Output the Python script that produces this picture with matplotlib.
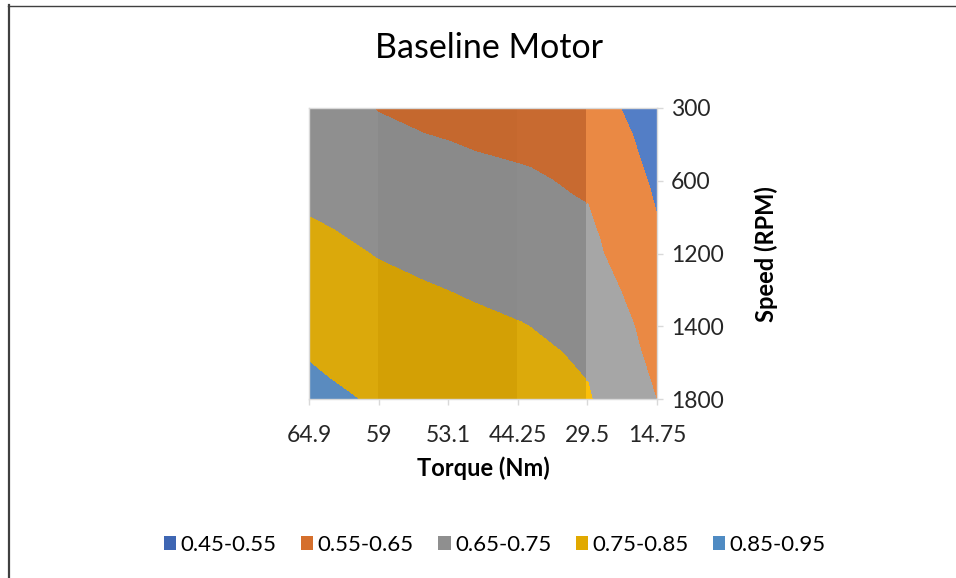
import matplotlib
matplotlib.use('Agg')
import matplotlib.pyplot as plt
import matplotlib.tri as mtri
from matplotlib.patches import Patch
from matplotlib.lines import Line2D
import numpy as np

plt.rcParams['font.family'] = ['Lato', 'DejaVu Sans']

# ---- data ----
torque_labels = ['64.9', '59', '53.1', '44.25', '29.5', '14.75']
speed_labels = ['300', '600', '1200', '1400', '1800']
eff_300 = [0.68, 0.647, 0.628, 0.61, 0.594, 0.50]
eff_600 = [0.72, 0.69, 0.676, 0.662, 0.638, 0.535]
eff_1200 = [0.78, 0.745, 0.721, 0.696, 0.675, 0.565]
eff_1400 = [0.83, 0.799, 0.777, 0.754, 0.727, 0.612]
eff_1800 = [0.87, 0.841, 0.80, 0.79, 0.757, 0.648]
levels = [0.45, 0.55, 0.65, 0.75, 0.85, 0.95]
band_labels = ['0.45-0.55', '0.55-0.65', '0.65-0.75', '0.75-0.85', '0.85-0.95']

# ---- styles ----
legend_colors = ['#3e66b3', '#d56f2c', '#8f8f8f', '#e1a900', '#4f8bc3']
# surface shading differs per cell column (Excel 3D lighting)
column_colors = [
    ['#4a74c0', '#c96b31', '#8f8f8f', '#dba90b', '#5a8bbf'],
    ['#4a74c0', '#c5682e', '#8a8a8a', '#d3a005', '#5a8bbf'],
    ['#4a74c0', '#c5682e', '#8a8a8a', '#d3a005', '#5a8bbf'],
    ['#4a74c0', '#c86a30', '#8c8c8c', '#dcaa0b', '#5a8bbf'],
    ['#537ec6', '#ea8944', '#a6a6a6', '#fbbf0a', '#5a8bbf'],
]

Z = np.array([eff_300, eff_600, eff_1200, eff_1400, eff_1800])
nr, nc = Z.shape
xs, ys = np.meshgrid(np.arange(nc), np.arange(nr))
xf, yf, zf = xs.ravel().astype(float), ys.ravel().astype(float), Z.ravel()

tris, tri_col = [], []
for r in range(nr - 1):
    for c in range(nc - 1):
        i = lambda rr, cc: rr * nc + cc
        tris.append([i(r, c), i(r, c + 1), i(r + 1, c)])
        tris.append([i(r, c + 1), i(r + 1, c + 1), i(r + 1, c)])
        tri_col += [c, c]
tris = np.array(tris)
tri_col = np.array(tri_col)

fig = plt.figure(figsize=(9.56, 5.78), dpi=100)
W, H = 956, 578
ax = fig.add_axes([309 / W, 1 - 399 / H, 348 / W, 291 / H])

for c in range(nc - 1):
    tr = mtri.Triangulation(xf, yf, tris)
    tr.set_mask(tri_col != c)
    cs = ax.tricontourf(tr, zf, levels=levels, colors=column_colors[c])
    cs.set_edgecolor('face')
    cs.set_linewidth(0.6)

ax.set_xlim(0, nc - 1)
ax.set_ylim(nr - 1, 0)
ax.set_xticks(range(nc))
ax.set_xticklabels(torque_labels)
ax.set_yticks(range(nr))
ax.set_yticklabels(speed_labels)
ax.yaxis.tick_right()
ax.tick_params(axis='x', length=4, width=1, color='#d9d9d9', pad=15,
               labelsize=16.5, labelcolor='#262626')
ax.tick_params(axis='y', length=4, width=1, color='#d9d9d9', pad=6,
               labelsize=16.5, labelcolor='#262626')
for s in ax.spines.values():
    s.set_color('#d9d9d9')
    s.set_linewidth(1)

fig.text(489 / W, 1 - 48 / H, 'Baseline Motor', ha='center', va='center',
         fontsize=24.5, color='#000000')
fig.text(483 / W, 1 - 468 / H, 'Torque (Nm)', ha='center', va='center',
         fontsize=17, fontweight='bold', color='#000000')
fig.text(766 / W, 1 - 254 / H, 'Speed (RPM)', ha='center', va='center',
         rotation=90, fontsize=17, fontweight='bold', color='#000000')

handles = [Patch(facecolor=col, edgecolor='none') for col in legend_colors]
fig.legend(handles, band_labels, loc='center', bbox_to_anchor=(495 / W, 1 - 545 / H),
           ncol=5, frameon=False, fontsize=16, handlelength=0.55, handleheight=0.6,
           handletextpad=0.2, columnspacing=1.1)

fig.add_artist(Line2D([9 / W, 9 / W], [0, 1 - 5 / H], transform=fig.transFigure,
                      color='#404040', lw=1.6))
fig.add_artist(Line2D([8 / W, 1], [1 - 5.5 / H, 1 - 5.5 / H], transform=fig.transFigure,
                      color='#404040', lw=1.0))

fig.savefig('out.png', dpi=100)
